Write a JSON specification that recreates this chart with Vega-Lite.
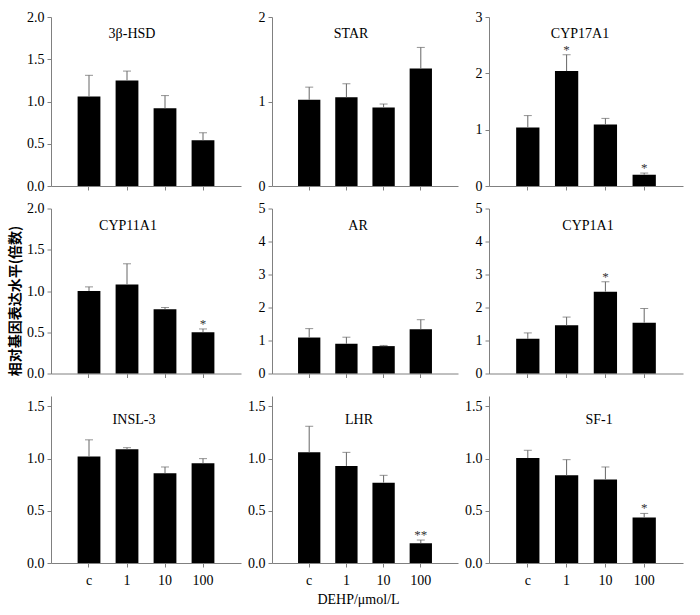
{
  "$schema": "https://vega.github.io/schema/vega-lite/v6.json",
  "padding": {"left": 8, "top": 10, "right": 5, "bottom": 5},
  "background": "white",
  "config": {
    "view": {"stroke": null},
    "font": "Liberation Serif",
    "title": {"font": "Liberation Serif", "fontSize": 14, "fontWeight": "normal", "offset": -31, "anchor": "middle", "frame": "group", "color": "black"},
    "axis": {"grid": false, "domainColor": "#808080", "tickColor": "#808080", "tickSize": 4, "labelFont": "Liberation Serif", "labelFontSize": 14, "labelColor": "black", "labelPadding": 3, "labelOverlap": false, "labelFlush": false, "title": null},
    "axisX": {"labelAngle": 0, "labelPadding": 6},
    "bar": {"color": "black"},
    "rule": {"color": "#666"},
    "tick": {"color": "#666", "size": 8, "thickness": 1},
    "text": {"font": "Liberation Serif", "fontSize": 13, "color": "#333", "baseline": "alphabetic", "dy": -1}
  },
  "data": {"values": [
    {"gene": "3β-HSD", "dose": "c", "mean": 1.06, "err": 1.31, "sig": ""},
    {"gene": "3β-HSD", "dose": "1", "mean": 1.25, "err": 1.36, "sig": ""},
    {"gene": "3β-HSD", "dose": "10", "mean": 0.92, "err": 1.07, "sig": ""},
    {"gene": "3β-HSD", "dose": "100", "mean": 0.54, "err": 0.63, "sig": ""},
    {"gene": "STAR", "dose": "c", "mean": 1.02, "err": 1.17, "sig": ""},
    {"gene": "STAR", "dose": "1", "mean": 1.05, "err": 1.21, "sig": ""},
    {"gene": "STAR", "dose": "10", "mean": 0.93, "err": 0.97, "sig": ""},
    {"gene": "STAR", "dose": "100", "mean": 1.39, "err": 1.64, "sig": ""},
    {"gene": "CYP17A1", "dose": "c", "mean": 1.04, "err": 1.25, "sig": ""},
    {"gene": "CYP17A1", "dose": "1", "mean": 2.04, "err": 2.33, "sig": "*"},
    {"gene": "CYP17A1", "dose": "10", "mean": 1.09, "err": 1.2, "sig": ""},
    {"gene": "CYP17A1", "dose": "100", "mean": 0.2, "err": 0.23, "sig": "*"},
    {"gene": "CYP11A1", "dose": "c", "mean": 1.0, "err": 1.05, "sig": ""},
    {"gene": "CYP11A1", "dose": "1", "mean": 1.08, "err": 1.33, "sig": ""},
    {"gene": "CYP11A1", "dose": "10", "mean": 0.78, "err": 0.8, "sig": ""},
    {"gene": "CYP11A1", "dose": "100", "mean": 0.5, "err": 0.54, "sig": "*"},
    {"gene": "AR", "dose": "c", "mean": 1.09, "err": 1.36, "sig": ""},
    {"gene": "AR", "dose": "1", "mean": 0.9, "err": 1.1, "sig": ""},
    {"gene": "AR", "dose": "10", "mean": 0.83, "err": 0.85, "sig": ""},
    {"gene": "AR", "dose": "100", "mean": 1.34, "err": 1.63, "sig": ""},
    {"gene": "CYP1A1", "dose": "c", "mean": 1.05, "err": 1.23, "sig": ""},
    {"gene": "CYP1A1", "dose": "1", "mean": 1.46, "err": 1.71, "sig": ""},
    {"gene": "CYP1A1", "dose": "10", "mean": 2.48, "err": 2.78, "sig": "*"},
    {"gene": "CYP1A1", "dose": "100", "mean": 1.54, "err": 1.97, "sig": ""},
    {"gene": "INSL-3", "dose": "c", "mean": 1.02, "err": 1.18, "sig": ""},
    {"gene": "INSL-3", "dose": "1", "mean": 1.09, "err": 1.105, "sig": ""},
    {"gene": "INSL-3", "dose": "10", "mean": 0.86, "err": 0.92, "sig": ""},
    {"gene": "INSL-3", "dose": "100", "mean": 0.955, "err": 1.0, "sig": ""},
    {"gene": "LHR", "dose": "c", "mean": 1.06, "err": 1.31, "sig": ""},
    {"gene": "LHR", "dose": "1", "mean": 0.93, "err": 1.06, "sig": ""},
    {"gene": "LHR", "dose": "10", "mean": 0.77, "err": 0.84, "sig": ""},
    {"gene": "LHR", "dose": "100", "mean": 0.19, "err": 0.22, "sig": "**"},
    {"gene": "SF-1", "dose": "c", "mean": 1.005, "err": 1.08, "sig": ""},
    {"gene": "SF-1", "dose": "1", "mean": 0.84, "err": 0.99, "sig": ""},
    {"gene": "SF-1", "dose": "10", "mean": 0.8, "err": 0.92, "sig": ""},
    {"gene": "SF-1", "dose": "100", "mean": 0.435, "err": 0.475, "sig": "*"}
  ]},
  "columns": 3,
  "bounds": "flush",
  "align": "each",
  "spacing": {"row": 22.5, "column": 31},
  "concat": [
    {
      "width": 190, "height": 169,
      "title": {"text": "3β-HSD", "dx": -14},
      "transform": [{"filter": "datum.gene === '3β-HSD'"}],
      "encoding": {"x": {"field": "dose", "type": "nominal", "sort": ["c", "1", "10", "100"], "scale": {"paddingInner": 0.4, "paddingOuter": 0.7}, "axis": {"labels": false}}},
      "layer": [
        {"mark": "bar", "encoding": {"y": {"field": "mean", "type": "quantitative", "scale": {"domain": [0, 2]}, "axis": {"values": [0, 0.5, 1, 1.5, 2], "format": ".1f"}}}},
        {"mark": "rule", "encoding": {"y": {"field": "mean", "type": "quantitative", "axis": {"values": [0, 0.5, 1, 1.5, 2], "format": ".1f"}}, "y2": {"field": "err"}}},
        {"mark": "tick", "encoding": {"y": {"field": "err", "type": "quantitative", "axis": {"values": [0, 0.5, 1, 1.5, 2], "format": ".1f"}}}},
        {"mark": "text", "encoding": {"y": {"field": "err", "type": "quantitative", "axis": {"values": [0, 0.5, 1, 1.5, 2], "format": ".1f"}}, "text": {"field": "sig"}}}
      ]
    },
    {
      "width": 186, "height": 169,
      "title": {"text": "STAR", "dx": -14},
      "transform": [{"filter": "datum.gene === 'STAR'"}],
      "encoding": {"x": {"field": "dose", "type": "nominal", "sort": ["c", "1", "10", "100"], "scale": {"paddingInner": 0.4, "paddingOuter": 0.7}, "axis": {"labels": false}}},
      "layer": [
        {"mark": "bar", "encoding": {"y": {"field": "mean", "type": "quantitative", "scale": {"domain": [0, 2]}, "axis": {"values": [0, 1, 2], "labelExpr": "format(datum.value, 'd')"}}}},
        {"mark": "rule", "encoding": {"y": {"field": "mean", "type": "quantitative", "axis": {"values": [0, 1, 2], "labelExpr": "format(datum.value, 'd')"}}, "y2": {"field": "err"}}},
        {"mark": "tick", "encoding": {"y": {"field": "err", "type": "quantitative", "axis": {"values": [0, 1, 2], "labelExpr": "format(datum.value, 'd')"}}}},
        {"mark": "text", "encoding": {"y": {"field": "err", "type": "quantitative", "axis": {"values": [0, 1, 2], "labelExpr": "format(datum.value, 'd')"}}, "text": {"field": "sig"}}}
      ]
    },
    {
      "width": 194, "height": 169,
      "title": {"text": "CYP17A1", "dx": -6},
      "transform": [{"filter": "datum.gene === 'CYP17A1'"}],
      "encoding": {"x": {"field": "dose", "type": "nominal", "sort": ["c", "1", "10", "100"], "scale": {"paddingInner": 0.4, "paddingOuter": 0.7}, "axis": {"labels": false}}},
      "layer": [
        {"mark": "bar", "encoding": {"y": {"field": "mean", "type": "quantitative", "scale": {"domain": [0, 3]}, "axis": {"values": [0, 1, 2, 3], "format": "d"}}}},
        {"mark": "rule", "encoding": {"y": {"field": "mean", "type": "quantitative", "axis": {"values": [0, 1, 2, 3], "format": "d"}}, "y2": {"field": "err"}}},
        {"mark": "tick", "encoding": {"y": {"field": "err", "type": "quantitative", "axis": {"values": [0, 1, 2, 3], "format": "d"}}}},
        {"mark": "text", "encoding": {"y": {"field": "err", "type": "quantitative", "axis": {"values": [0, 1, 2, 3], "format": "d"}}, "text": {"field": "sig"}}}
      ]
    },
    {
      "width": 190, "height": 165,
      "title": {"text": "CYP11A1", "dx": -18},
      "transform": [{"filter": "datum.gene === 'CYP11A1'"}],
      "encoding": {"x": {"field": "dose", "type": "nominal", "sort": ["c", "1", "10", "100"], "scale": {"paddingInner": 0.4, "paddingOuter": 0.7}, "axis": {"labels": false}}},
      "layer": [
        {"mark": "bar", "encoding": {"y": {"field": "mean", "type": "quantitative", "scale": {"domain": [0, 2]}, "axis": {"values": [0, 0.5, 1, 1.5, 2], "format": ".1f", "title": "相对基因表达水平(倍数)", "titleFont": "Noto Sans CJK SC", "titleFontSize": 14, "titleFontWeight": "bold", "titleColor": "black", "titlePadding": 4, "titleY": 92}}}},
        {"mark": "rule", "encoding": {"y": {"field": "mean", "type": "quantitative", "axis": {"values": [0, 0.5, 1, 1.5, 2], "format": ".1f", "title": "相对基因表达水平(倍数)"}}, "y2": {"field": "err"}}},
        {"mark": "tick", "encoding": {"y": {"field": "err", "type": "quantitative", "axis": {"values": [0, 0.5, 1, 1.5, 2], "format": ".1f", "title": "相对基因表达水平(倍数)"}}}},
        {"mark": "text", "encoding": {"y": {"field": "err", "type": "quantitative", "axis": {"values": [0, 0.5, 1, 1.5, 2], "format": ".1f", "title": "相对基因表达水平(倍数)"}}, "text": {"field": "sig"}}}
      ]
    },
    {
      "width": 186, "height": 165,
      "title": {"text": "AR", "dx": -7},
      "transform": [{"filter": "datum.gene === 'AR'"}],
      "encoding": {"x": {"field": "dose", "type": "nominal", "sort": ["c", "1", "10", "100"], "scale": {"paddingInner": 0.4, "paddingOuter": 0.7}, "axis": {"labels": false}}},
      "layer": [
        {"mark": "bar", "encoding": {"y": {"field": "mean", "type": "quantitative", "scale": {"domain": [0, 5]}, "axis": {"values": [0, 1, 2, 3, 4, 5], "format": "d"}}}},
        {"mark": "rule", "encoding": {"y": {"field": "mean", "type": "quantitative", "axis": {"values": [0, 1, 2, 3, 4, 5], "format": "d"}}, "y2": {"field": "err"}}},
        {"mark": "tick", "encoding": {"y": {"field": "err", "type": "quantitative", "axis": {"values": [0, 1, 2, 3, 4, 5], "format": "d"}}}},
        {"mark": "text", "encoding": {"y": {"field": "err", "type": "quantitative", "axis": {"values": [0, 1, 2, 3, 4, 5], "format": "d"}}, "text": {"field": "sig"}}}
      ]
    },
    {
      "width": 194, "height": 165,
      "title": {"text": "CYP1A1", "dx": 2},
      "transform": [{"filter": "datum.gene === 'CYP1A1'"}],
      "encoding": {"x": {"field": "dose", "type": "nominal", "sort": ["c", "1", "10", "100"], "scale": {"paddingInner": 0.4, "paddingOuter": 0.7}, "axis": {"labels": false}}},
      "layer": [
        {"mark": "bar", "encoding": {"y": {"field": "mean", "type": "quantitative", "scale": {"domain": [0, 5]}, "axis": {"values": [0, 1, 2, 3, 4, 5], "format": "d"}}}},
        {"mark": "rule", "encoding": {"y": {"field": "mean", "type": "quantitative", "axis": {"values": [0, 1, 2, 3, 4, 5], "format": "d"}}, "y2": {"field": "err"}}},
        {"mark": "tick", "encoding": {"y": {"field": "err", "type": "quantitative", "axis": {"values": [0, 1, 2, 3, 4, 5], "format": "d"}}}},
        {"mark": "text", "encoding": {"y": {"field": "err", "type": "quantitative", "axis": {"values": [0, 1, 2, 3, 4, 5], "format": "d"}}, "text": {"field": "sig"}}}
      ]
    },
    {
      "width": 190, "height": 167,
      "title": {"text": "INSL-3", "dx": -12},
      "transform": [{"filter": "datum.gene === 'INSL-3'"}],
      "encoding": {"x": {"field": "dose", "type": "nominal", "sort": ["c", "1", "10", "100"], "scale": {"paddingInner": 0.4, "paddingOuter": 0.7}}},
      "layer": [
        {"mark": "bar", "encoding": {"y": {"field": "mean", "type": "quantitative", "scale": {"domain": [0, 1.5]}, "axis": {"values": [0, 0.5, 1, 1.5], "format": ".1f"}}}},
        {"mark": "rule", "encoding": {"y": {"field": "mean", "type": "quantitative", "axis": {"values": [0, 0.5, 1, 1.5], "format": ".1f"}}, "y2": {"field": "err"}}},
        {"mark": "tick", "encoding": {"y": {"field": "err", "type": "quantitative", "axis": {"values": [0, 0.5, 1, 1.5], "format": ".1f"}}}},
        {"mark": "text", "encoding": {"y": {"field": "err", "type": "quantitative", "axis": {"values": [0, 0.5, 1, 1.5], "format": ".1f"}}, "text": {"field": "sig"}}}
      ]
    },
    {
      "width": 186, "height": 167,
      "title": {"text": "LHR", "dx": -6},
      "transform": [{"filter": "datum.gene === 'LHR'"}],
      "encoding": {"x": {"field": "dose", "type": "nominal", "sort": ["c", "1", "10", "100"], "scale": {"paddingInner": 0.4, "paddingOuter": 0.7}, "axis": {"title": "DEHP/μmol/L", "titleFont": "Liberation Serif", "titleFontSize": 14, "titleFontWeight": "normal", "titleColor": "black", "titlePadding": 5, "titleX": 86}}},
      "layer": [
        {"mark": "bar", "encoding": {"y": {"field": "mean", "type": "quantitative", "scale": {"domain": [0, 1.5]}, "axis": {"values": [0, 0.5, 1, 1.5], "format": ".1f"}}}},
        {"mark": "rule", "encoding": {"y": {"field": "mean", "type": "quantitative", "axis": {"values": [0, 0.5, 1, 1.5], "format": ".1f"}}, "y2": {"field": "err"}}},
        {"mark": "tick", "encoding": {"y": {"field": "err", "type": "quantitative", "axis": {"values": [0, 0.5, 1, 1.5], "format": ".1f"}}}},
        {"mark": "text", "encoding": {"y": {"field": "err", "type": "quantitative", "axis": {"values": [0, 0.5, 1, 1.5], "format": ".1f"}}, "text": {"field": "sig"}}}
      ]
    },
    {
      "width": 194, "height": 167,
      "title": {"text": "SF-1", "dx": 13},
      "transform": [{"filter": "datum.gene === 'SF-1'"}],
      "encoding": {"x": {"field": "dose", "type": "nominal", "sort": ["c", "1", "10", "100"], "scale": {"paddingInner": 0.4, "paddingOuter": 0.7}}},
      "layer": [
        {"mark": "bar", "encoding": {"y": {"field": "mean", "type": "quantitative", "scale": {"domain": [0, 1.5]}, "axis": {"values": [0, 0.5, 1, 1.5], "format": ".1f"}}}},
        {"mark": "rule", "encoding": {"y": {"field": "mean", "type": "quantitative", "axis": {"values": [0, 0.5, 1, 1.5], "format": ".1f"}}, "y2": {"field": "err"}}},
        {"mark": "tick", "encoding": {"y": {"field": "err", "type": "quantitative", "axis": {"values": [0, 0.5, 1, 1.5], "format": ".1f"}}}},
        {"mark": "text", "encoding": {"y": {"field": "err", "type": "quantitative", "axis": {"values": [0, 0.5, 1, 1.5], "format": ".1f"}}, "text": {"field": "sig"}}}
      ]
    }
  ]
}
